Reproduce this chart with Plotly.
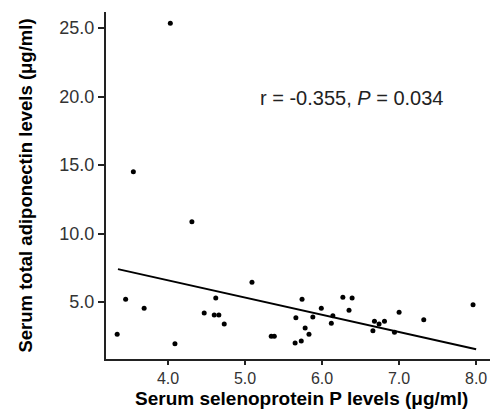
import plotly.graph_objects as go

# Scatter data (serum selenoprotein P vs total adiponectin)
selp = [4.03, 3.55, 4.31, 3.34, 3.45, 3.69, 4.09, 4.47, 4.62, 4.60, 4.66, 4.73,
        5.09, 5.34, 5.38, 5.74, 5.66, 5.65, 5.73, 5.78, 5.83, 5.88, 5.99, 6.12,
        6.14, 6.27, 6.39, 6.35, 6.66, 6.68, 6.74, 6.81, 6.94, 7.00, 7.32, 7.96]
adipo = [25.35, 14.5, 10.85, 2.65, 5.2, 4.55, 1.95, 4.2, 5.3, 4.05, 4.05, 3.4,
         6.45, 2.5, 2.5, 5.2, 3.85, 2.0, 2.15, 3.1, 2.65, 3.9, 4.55, 3.45,
         4.0, 5.35, 5.3, 4.4, 2.9, 3.6, 3.4, 3.6, 2.8, 4.25, 3.7, 4.8]

# Regression line end points
fit_x = [3.35, 8.0]
fit_y = [7.4, 1.55]

x_ticks = [4.0, 5.0, 6.0, 7.0, 8.0]
y_ticks = [5.0, 10.0, 15.0, 20.0, 25.0]
x_tick_labels = ["4.0", "5.0", "6.0", "7.0", "8.0"]
y_tick_labels = ["5.0", "10.0", "15.0", "20.0", "25.0"]

x_title = "<b>Serum selenoprotein P levels (μg/ml)</b>"
y_title = "<b>Serum total adiponectin levels (μg/ml)</b>"
stat_text = "r = -0.355, <i>P</i> = 0.034"

font_family = "Liberation Sans, Arial, sans-serif"

fig = go.Figure()
fig.add_trace(go.Scatter(x=fit_x, y=fit_y, mode="lines",
                         line=dict(color="black", width=2), showlegend=False))
fig.add_trace(go.Scatter(x=selp, y=adipo, mode="markers",
                         marker=dict(color="black", size=5), showlegend=False))

fig.add_annotation(x=5.17, y=19.9, xref="x", yref="y", text=stat_text,
                   showarrow=False, xanchor="left", yanchor="middle",
                   font=dict(family=font_family, size=20, color="#222"))

fig.add_annotation(x=0.51, y=0, xref="paper", yref="paper", text=x_title,
                   showarrow=False, xanchor="center", yanchor="bottom", yshift=-52,
                   font=dict(family=font_family, size=19, color="black"))

fig.update_layout(
    width=496, height=411,
    margin=dict(l=106, r=6, t=12, b=52, autoexpand=False),
    plot_bgcolor="white", paper_bgcolor="white",
    font=dict(family=font_family, color="#222"),
    xaxis=dict(range=[3.195, 8.18], tickvals=x_ticks, ticktext=x_tick_labels,
               showgrid=False, zeroline=False, showline=True, linecolor="#222",
               linewidth=2, ticks="outside", ticklen=4, tickwidth=2, tickcolor="#222",
               tickfont=dict(size=16, color="#333")),
    yaxis=dict(range=[0.84, 26.17], tickvals=y_ticks, ticktext=y_tick_labels,
               showgrid=False, zeroline=False, showline=True, linecolor="#222",
               linewidth=2, ticks="outside", ticklen=6, tickwidth=2, tickcolor="#222",
               tickfont=dict(size=18, color="#333"),
               title=dict(text=y_title,
                          font=dict(size=18.5, color="black"), standoff=22)),
)

fig.write_html("out.html", config={"displayModeBar": False},
               post_script="document.body.style.margin='0';")
